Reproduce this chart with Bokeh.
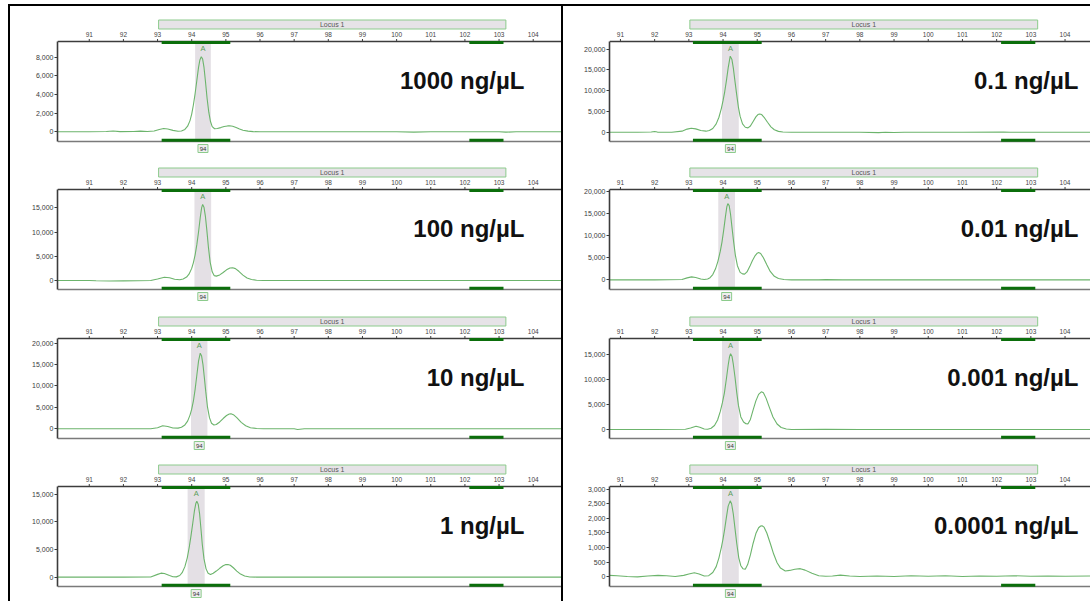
from bokeh.plotting import figure
from bokeh.layouts import row, column
from bokeh.models import Div, FixedTicker, NumeralTickFormatter, Range1d
from bokeh.core.properties import value
from bokeh.embed import file_html
from bokeh.resources import INLINE

# ---------------- data ----------------
labels = ["1000 ng/µL", "100 ng/µL", "10 ng/µL", "1 ng/µL",
          "0.1 ng/µL", "0.01 ng/µL", "0.001 ng/µL", "0.0001 ng/µL"]
size_ticks = [91, 92, 93, 94, 95, 96, 97, 98, 99, 100, 101, 102, 103, 104]
locus_name = "Locus 1"
locus_start, locus_end = 93.03, 103.2
bin_starts = [93.12, 102.13]
bin_ends = [95.13, 103.13]
allele_name = "A"
allele_size = "94"

axis_lo = [-1040, -1860, -2270, -1690, -2240, -2180, -1790, -330]
axis_hi = [9680, 18780, 21100, 16390, 21860, 20450, 18120, 3090]
y_ticks = [
    [0, 2000, 4000, 6000, 8000],
    [0, 5000, 10000, 15000],
    [0, 5000, 10000, 15000, 20000],
    [0, 5000, 10000, 15000],
    [0, 5000, 10000, 15000, 20000],
    [0, 5000, 10000, 15000, 20000],
    [0, 5000, 10000, 15000],
    [0, 500, 1000, 1500, 2000, 2500, 3000],
]
band_lo = [94.10, 94.08, 93.98, 93.88, 93.97, 93.86, 93.97, 93.97]
band_hi = [94.56, 94.57, 94.46, 94.38, 94.46, 94.35, 94.46, 94.46]

trace_x_1000 = [90.07, 90.6, 91.0, 91.5, 91.7, 91.9, 92.3, 92.5, 92.7, 92.9, 93.05, 93.18, 93.3, 93.45,
                93.6, 93.7, 93.8, 93.88, 93.95, 94.0, 94.05, 94.1, 94.15, 94.2, 94.24, 94.28, 94.32,
                94.36, 94.4, 94.45, 94.5, 94.55, 94.6, 94.67, 94.75, 94.85, 94.95, 95.05, 95.11, 95.2,
                95.3, 95.4, 95.5, 95.65, 95.8, 96.0, 96.5, 97.0, 98.0, 99.0, 100.0, 100.5, 101.0,
                102.0, 103.0, 103.2, 103.5, 104.0, 104.9]
trace_y_1000 = [0, 10, 0, 40, 90, 20, 30, 70, 40, 80, 250, 350, 300, 150,
                60, 80, 250, 600, 1200, 1900, 2900, 4100, 5500, 6900, 7700, 8050, 7800,
                6900, 5500, 3600, 2100, 1100, 550, 330, 350, 450, 570, 630, 640, 590,
                460, 300, 170, 70, 20, 0, 10, 0, 0, 10, 0, -40, 0,
                0, 0, -40, 0, 0, 0]

trace_x_100 = [90.07, 90.5, 91.0, 91.2, 91.6, 92.0, 92.4, 92.8, 93.0, 93.2, 93.35, 93.5, 93.65, 93.75,
               93.85, 93.92, 94.0, 94.05, 94.1, 94.15, 94.2, 94.25, 94.29, 94.32, 94.36, 94.4, 94.44,
               94.49, 94.54, 94.6, 94.66, 94.72, 94.82, 94.92, 95.02, 95.12, 95.2, 95.28, 95.38, 95.5,
               95.62, 95.75, 95.9, 96.1, 97.0, 98.0, 99.0, 100.0, 101.0, 102.0, 103.0, 104.0, 104.9]
trace_y_100 = [0, 0, 0, -60, -120, -80, -60, 0, 300, 680, 560, 250, 150, 300,
               700, 1300, 2500, 3700, 5300, 7400, 10000, 13000, 15000, 15700, 15100, 13300, 10600,
               6800, 3800, 1800, 1000, 900, 1150, 1650, 2200, 2570, 2620, 2450, 1900, 1100,
               500, 200, 50, 0, 0, 0, 0, 0, 0, 0, 0, 0, 0]

trace_x_10 = [90.07, 91.0, 92.0, 92.8, 93.0, 93.15, 93.3, 93.45, 93.6, 93.7, 93.8, 93.88, 93.95, 94.0,
              94.05, 94.1, 94.15, 94.2, 94.25, 94.29, 94.33, 94.37, 94.41, 94.46, 94.52, 94.58, 94.65,
              94.72, 94.82, 94.92, 95.02, 95.1, 95.15, 95.22, 95.32, 95.45, 95.58, 95.72, 95.9, 96.1,
              97.0, 97.1, 97.3, 98.0, 99.0, 100.0, 101.0, 102.0, 103.0, 104.0, 104.9]
trace_y_10 = [0, 0, 0, 0, 250, 700, 550, 200, 150, 350, 900, 1800, 3200, 4600,
              6500, 9200, 12500, 15800, 17660, 17000, 15000, 12000, 8800, 5200, 2600, 1300, 900,
              1000, 1600, 2400, 3100, 3450, 3500, 3300, 2600, 1500, 700, 250, 80, 0,
              0, -150, 0, 0, 0, 0, 0, 0, 0, 0, 0]

trace_x_1 = [90.07, 91.0, 92.0, 92.8, 93.0, 93.1, 93.2, 93.35, 93.45, 93.55, 93.65, 93.72, 93.8, 93.87,
             93.93, 93.98, 94.03, 94.08, 94.12, 94.15, 94.19, 94.23, 94.27, 94.31, 94.36, 94.42, 94.48,
             94.55, 94.63, 94.72, 94.82, 94.92, 95.0, 95.06, 95.13, 95.22, 95.32, 95.43, 95.55, 95.7,
             95.9, 97.0, 98.0, 99.0, 100.0, 101.0, 102.0, 103.0, 104.0, 104.9]
trace_y_1 = [0, 0, 0, 20, 500, 720, 650, 300, 80, 50, 300, 800, 1900, 3500,
             5500, 7500, 9700, 12000, 13300, 13730, 13200, 11500, 8800, 5900, 3300, 1500, 700,
             500, 700, 1100, 1600, 2050, 2270, 2300, 2150, 1700, 1100, 550, 200, 40,
             0, 0, 0, 0, 0, 0, 0, 0, 0, 0]

trace_x_01 = [90.68, 91.0, 91.5, 91.9, 92.0, 92.08, 92.5, 92.8, 92.95, 93.07, 93.2, 93.35, 93.5, 93.6,
              93.7, 93.8, 93.88, 93.95, 94.0, 94.05, 94.1, 94.15, 94.21, 94.26, 94.3, 94.35, 94.4,
              94.45, 94.5, 94.57, 94.65, 94.73, 94.8, 94.88, 94.96, 95.02, 95.07, 95.13, 95.2, 95.3,
              95.4, 95.5, 95.62, 95.75, 96.0, 97.0, 98.0, 98.55, 98.75, 99.0, 99.3, 100.0, 101.0,
              102.2, 102.4, 103.0, 104.0, 104.9]
trace_y_01 = [0, 0, 0, 50, 180, 30, 0, 250, 750, 960, 800, 400, 250, 400,
              900, 2000, 3600, 5700, 7600, 9800, 12500, 15500, 18320, 17500, 15500, 12200, 9000,
              6000, 3800, 2000, 1200, 1040, 1500, 2600, 3700, 4250, 4410, 4250, 3600, 2400,
              1300, 600, 200, 50, 0, 0, 0, -100, 0, -60, 0, 0, 0,
              60, 0, 0, 0, 0]

trace_x_001 = [90.68, 91.0, 92.0, 92.8, 92.95, 93.08, 93.2, 93.35, 93.45, 93.55, 93.62, 93.7, 93.78,
               93.85, 93.92, 93.97, 94.02, 94.07, 94.11, 94.14, 94.18, 94.22, 94.26, 94.31, 94.36,
               94.42, 94.5, 94.57, 94.63, 94.7, 94.78, 94.86, 94.94, 95.0, 95.04, 95.1, 95.18, 95.28,
               95.38, 95.5, 95.62, 95.78, 96.0, 96.8, 97.0, 97.5, 98.0, 99.0, 100.0, 101.0, 102.0,
               103.0, 104.0, 104.9]
trace_y_001 = [0, 0, 0, 80, 450, 680, 550, 200, 100, 200, 500, 1200, 2500,
               4200, 6500, 8600, 11300, 14300, 16500, 17240, 16800, 14800, 12000, 8600, 5600,
               3200, 1700, 1350, 1290, 1800, 3000, 4400, 5500, 6050, 6180, 5950, 5000, 3400,
               1900, 800, 300, 80, 0, 0, 50, 0, 0, 0, 0, 0, 0,
               0, 0, 0]

trace_x_0001 = [90.68, 91.0, 92.0, 92.9, 93.05, 93.21, 93.32, 93.45, 93.55, 93.65, 93.75, 93.84, 93.92,
                93.98, 94.04, 94.1, 94.15, 94.19, 94.22, 94.26, 94.3, 94.35, 94.4, 94.45, 94.52, 94.6,
                94.67, 94.73, 94.8, 94.88, 94.96, 95.04, 95.12, 95.18, 95.26, 95.36, 95.46, 95.58, 95.7,
                95.85, 96.0, 97.0, 98.0, 99.0, 100.0, 101.0, 102.0, 103.0, 104.0, 104.9]
trace_y_0001 = [0, 0, 0, 50, 300, 660, 450, 100, 50, 250, 800, 1900, 3600,
                5300, 7300, 10200, 12800, 14500, 15080, 14600, 13000, 10400, 7400, 4800, 2500, 1500,
                1150, 1130, 2000, 3900, 5700, 7000, 7510, 7300, 6200, 4300, 2500, 1100, 400,
                100, 0, 50, 0, 0, 0, 0, 0, 0, 0, 0]

trace_x_00001 = [90.68, 90.9, 91.2, 91.5, 91.8, 92.1, 92.35, 92.6, 92.85, 93.0, 93.16, 93.3, 93.45,
                 93.58, 93.7, 93.8, 93.88, 93.95, 94.0, 94.05, 94.1, 94.15, 94.21, 94.25, 94.3, 94.35,
                 94.4, 94.46, 94.52, 94.58, 94.65, 94.72, 94.8, 94.88, 94.96, 95.04, 95.1, 95.14, 95.2,
                 95.28, 95.38, 95.48, 95.58, 95.68, 95.82, 95.95, 96.1, 96.26, 96.4, 96.6, 96.8, 97.0,
                 97.2, 97.43, 97.7, 98.0, 98.5, 99.0, 99.5, 100.0, 100.5, 101.0, 101.5, 102.0, 102.5,
                 103.0, 103.5, 104.0, 104.9]
trace_y_00001 = [50, 40, 10, 0, 30, 50, 40, 10, 50, 100, 140, 100, 30,
                 40, 150, 350, 650, 1000, 1300, 1650, 2050, 2420, 2600, 2500, 2150, 1650,
                 1150, 650, 380, 280, 260, 420, 750, 1150, 1480, 1680, 1740, 1750, 1700,
                 1500, 1150, 780, 480, 300, 200, 220, 260, 280, 230, 120, 40, 20,
                 30, 60, 30, 10, 30, 10, 40, 20, 40, 10, 30, 20, 40,
                 20, 30, 20, 30]

traces_x = [trace_x_1000, trace_x_100, trace_x_10, trace_x_1,
            trace_x_01, trace_x_001, trace_x_0001, trace_x_00001]
traces_y = [trace_y_1000, trace_y_100, trace_y_10, trace_y_1,
            trace_y_01, trace_y_001, trace_y_0001, trace_y_00001]

# ---------------- style / layout ----------------
FONT = value("Liberation Sans")
TRACE = "#6cb46c"
BIN_GREEN = "#0b6e0b"
LIGHT_GREEN = "#8ccb8c"
BAND = "#e4e0e5"
AXIS = "#3c3c3c"

COLS = [
    dict(width=551, left=47, x0=90.07, ppx=34.15, label_px=467),
    dict(width=527, left=46, x0=90.68, ppx=34.2, label_px=469),
]
ROWS = [dict(height=148, top=35), dict(height=148, top=35),
        dict(height=149, top=36), dict(height=150, top=35)]


def make_panel(i):
    c = COLS[i // 4]
    r = ROWS[i % 4]
    frame_w = c["width"] - c["left"]
    x0 = c["x0"]
    x1 = x0 + frame_w / c["ppx"]
    lo, hi = axis_lo[i], axis_hi[i]
    ppy = (hi - lo) / 100.0
    y_end = hi + r["top"] * ppy
    y_start = y_end - r["height"] * ppy

    p = figure(width=c["width"], height=r["height"],
               x_range=Range1d(x0, x1), y_range=Range1d(y_start, y_end),
               output_backend="svg", toolbar_location=None,
               x_axis_location=None, y_axis_location="left",
               min_border=0, min_border_left=c["left"], min_border_right=0,
               min_border_top=0, min_border_bottom=0,
               outline_line_color=None, background_fill_color="white",
               border_fill_color="white", margin=0)
    p.grid.visible = False

    ax = p.yaxis[0]
    ax.bounds = (lo, hi)
    ax.ticker = FixedTicker(ticks=y_ticks[i])
    ax.formatter = NumeralTickFormatter(format="0,0")
    ax.axis_line_color = AXIS
    ax.axis_line_width = 1.6
    ax.major_tick_line_color = AXIS
    ax.major_tick_out = 3
    ax.major_tick_in = 0
    ax.minor_tick_line_color = None
    ax.major_label_standoff = 1
    ax.major_label_text_font = "Liberation Sans"
    ax.major_label_text_font_size = "7px"
    ax.major_label_text_color = "#3a3a3a"

    # allele band
    p.quad(left=[band_lo[i]], right=[band_hi[i]], bottom=[lo], top=[hi],
           fill_color=BAND, line_color=None)

    # inner box top / bottom lines
    p.segment(x0=[x0, x0], x1=[x1, x1], y0=[hi, lo], y1=[hi, lo],
              line_color=[AXIS, "#7a7a7a"], line_width=1.6)
    # small tick marks along top line
    p.segment(x0=size_ticks, x1=size_ticks, y0=[hi] * len(size_ticks),
              y1=[hi + 2.5 * ppy] * len(size_ticks), line_color=AXIS, line_width=1)

    # locus bar
    p.quad(left=[locus_start], right=[locus_end],
           bottom=[hi + 12.5 * ppy], top=[hi + 21.5 * ppy],
           fill_color="#e6e3e7", line_color=LIGHT_GREEN, line_width=1)
    p.text(x=[(locus_start + locus_end) / 2], y=[hi + 17 * ppy], text=[locus_name],
           text_font=FONT, text_font_size="7px", text_color="#555555",
           text_align="center", text_baseline="middle")

    # size tick labels
    p.text(x=size_ticks, y=[hi + 7 * ppy] * len(size_ticks),
           text=[str(t) for t in size_ticks],
           text_font=FONT, text_font_size="6.5px", text_color="#444444",
           text_align="center", text_baseline="middle")

    # bins (top and bottom)
    p.segment(x0=bin_starts + bin_starts, x1=bin_ends + bin_ends,
              y0=[hi - 1 * ppy] * 2 + [lo + 1.2 * ppy] * 2,
              y1=[hi - 1 * ppy] * 2 + [lo + 1.2 * ppy] * 2,
              line_color=BIN_GREEN, line_width=3)

    # trace
    p.line(traces_x[i], traces_y[i], line_color=TRACE, line_width=1.1)

    # allele label and size box
    mid = (band_lo[i] + band_hi[i]) / 2
    p.text(x=[mid], y=[hi - 7 * ppy], text=[allele_name],
           text_font=FONT, text_font_size="7.5px", text_color="#5a9e5a",
           text_align="center", text_baseline="middle")
    p.rect(x=[mid], y=[lo - 7 * ppy], width=10, height=8,
           width_units="screen", height_units="screen",
           fill_color="#eeeeee", line_color=LIGHT_GREEN, line_width=1)
    p.text(x=[mid], y=[lo - 7 * ppy], text=[allele_size],
           text_font=FONT, text_font_size="6px", text_color="#333333",
           text_align="center", text_baseline="middle")

    # concentration label
    p.text(x=[x0 + c["label_px"] / c["ppx"]], y=[hi - 39 * ppy], text=[labels[i]],
           text_font=FONT, text_font_size="24px", text_font_style="bold",
           text_color="#111111", text_align="right", text_baseline="alphabetic")
    return p


panels = [make_panel(i) for i in range(8)]


def bar(w, h, color="black"):
    return Div(width=w, height=h, margin=0, styles={"background-color": color})


col_h = sum(r["height"] for r in ROWS)
left_col = column(*panels[:4], spacing=0, margin=0)
right_col = column(*panels[4:], spacing=0, margin=0)
body = row(bar(2, col_h), left_col, bar(2, col_h), right_col, spacing=0, margin=0)
framed = column(bar(1082, 2), body, spacing=0, margin=0)
page = column(bar(1090, 4, "white"),
              row(bar(8, col_h + 2, "white"), framed, spacing=0, margin=0),
              spacing=0, margin=0)

open("out.html", "w").write(file_html(page, INLINE))
